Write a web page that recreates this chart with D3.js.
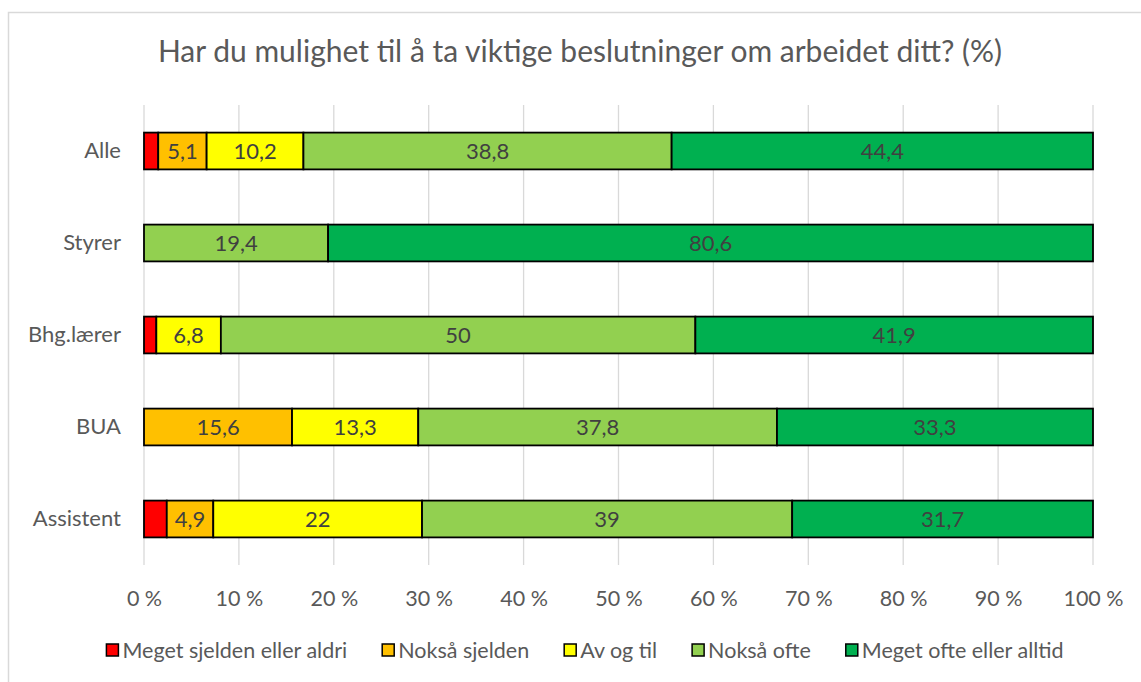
<!DOCTYPE html>
<html>
<head>
<meta charset="utf-8">
<script src="https://cdn.jsdelivr.net/npm/d3@7"></script>
<style>
  body { margin: 0; background: #fff; }
  svg { font-family: Lato, "Open Sans", sans-serif; }
</style>
</head>
<body>
<svg width="1141" height="682"></svg>
<script>
// data
var categories = ["Alle", "Styrer", "Bhg.lærer", "BUA", "Assistent"];
var seriesNames = ["Meget sjelden eller aldri", "Nokså sjelden", "Av og til", "Nokså ofte", "Meget ofte eller alltid"];
var colors = ["#ff0000", "#ffc000", "#ffff00", "#92d050", "#00b050"];
var meget_sjelden = [1.5, 0, 1.3, 0, 2.4];
var noksaa_sjelden = [5.1, 0, 0, 15.6, 4.9];
var av_og_til = [10.2, 0, 6.8, 13.3, 22];
var noksaa_ofte = [38.8, 19.4, 50, 37.8, 39];
var meget_ofte = [44.4, 80.6, 41.9, 33.3, 31.7];
var tickValues = [0, 10, 20, 30, 40, 50, 60, 70, 80, 90, 100];

var allSeries = [meget_sjelden, noksaa_sjelden, av_og_til, noksaa_ofte, meget_ofte];
var table = categories.map(function (c, i) {
  var row = { cat: c };
  seriesNames.forEach(function (s, j) { row[s] = allSeries[j][i]; });
  return row;
});
// 100% stacking
var stack = d3.stack().keys(seriesNames).offset(d3.stackOffsetExpand);
var stacked = stack(table);

var svg = d3.select("svg");
var margin = { left: 144, right: 48, top: 105, bottom: 117 };
var W = 1141, H = 682;
var txt = "#595959";

// chart frame (cropped on right and bottom)
svg.append("rect").attr("x", 8.5).attr("y", 12.5).attr("width", 1200).attr("height", 700)
  .attr("fill", "none").attr("stroke", "#d9d9d9").attr("stroke-width", 1.5);

var x = d3.scaleLinear().domain([0, 1]).range([margin.left, W - margin.right]);
var y = d3.scaleBand().domain(categories).range([margin.top, H - margin.bottom]).paddingInner(0.6).paddingOuter(0.3);

// title
svg.append("text").attr("x", 580).attr("y", 62).attr("text-anchor", "middle")
  .attr("font-size", 30).attr("fill", txt)
  .text("Har du mulighet til å ta viktige beslutninger om arbeidet ditt? (%)");

// gridlines
svg.append("g").selectAll("line").data(tickValues).join("line")
  .attr("x1", function (d) { return x(d / 100); })
  .attr("x2", function (d) { return x(d / 100); })
  .attr("y1", margin.top).attr("y2", H - margin.bottom)
  .attr("stroke", "#d9d9d9").attr("stroke-width", 1.3);

// x axis
var xAxis = d3.axisBottom(x).tickValues(tickValues.map(function (d) { return d / 100; }))
  .tickSize(0).tickPadding(0)
  .tickFormat(function (d) { return Math.round(d * 100) + " %"; });
var gx = svg.append("g").attr("transform", "translate(0,598)").call(xAxis);
gx.select(".domain").remove();
gx.selectAll("text").attr("y", 0).attr("dy", "0.35em")
  .attr("font-size", 21.5).attr("fill", txt).attr("font-family", "Lato, 'Open Sans', sans-serif");

// y axis
var yAxis = d3.axisLeft(y).tickSize(0).tickPadding(23);
var gy = svg.append("g").attr("transform", "translate(" + margin.left + ",0)").call(yAxis);
gy.select(".domain").remove();
gy.selectAll("text").attr("font-size", 22).attr("fill", txt).attr("font-family", "Lato, 'Open Sans', sans-serif");

// bars
var layers = svg.append("g").selectAll("g").data(stacked).join("g")
  .attr("fill", function (d, i) { return colors[i]; });

layers.selectAll("rect").data(function (d) { return d.filter(function (p) { return p[1] - p[0] > 0; }); })
  .join("rect")
  .attr("x", function (d) { return x(d[0]); })
  .attr("y", function (d) { return y(d.data.cat); })
  .attr("width", function (d) { return x(d[1]) - x(d[0]); })
  .attr("height", y.bandwidth())
  .attr("stroke", "#000").attr("stroke-width", 1.8);

// data labels (the thin red segments have none)
layers.each(function (s, si) {
  if (si === 0) return;
  d3.select(this).selectAll("text").data(s.filter(function (p) { return p[1] - p[0] > 0; }))
    .join("text")
    .attr("x", function (d) { return (x(d[0]) + x(d[1])) / 2; })
    .attr("y", function (d) { return y(d.data.cat) + y.bandwidth() / 2; })
    .attr("dy", "0.35em").attr("text-anchor", "middle")
    .attr("font-size", 22).attr("fill", "#404040")
    .text(function (d) { return String(d.data[s.key]).replace(".", ","); });
});

// legend
var legend = svg.append("g").attr("transform", "translate(0,650)");
var items = legend.selectAll("g").data(seriesNames).join("g");
items.append("rect").attr("x", 0).attr("y", -6).attr("width", 12).attr("height", 12)
  .attr("fill", function (d, i) { return colors[i]; })
  .attr("stroke", "#000").attr("stroke-width", 1.5);
items.append("text").attr("x", 16).attr("dy", "0.35em")
  .attr("font-size", 21.5).attr("fill", txt).text(function (d) { return d; });
var gap = 35, pos = 0, widths = [];
items.each(function () { widths.push(this.getBBox().width); });
var total = d3.sum(widths) + gap * (widths.length - 1);
var start = 585 - total / 2;
items.attr("transform", function (d, i) {
  var t = "translate(" + (start + pos) + ",0)";
  pos += widths[i] + gap;
  return t;
});
</script>
</body>
</html>
